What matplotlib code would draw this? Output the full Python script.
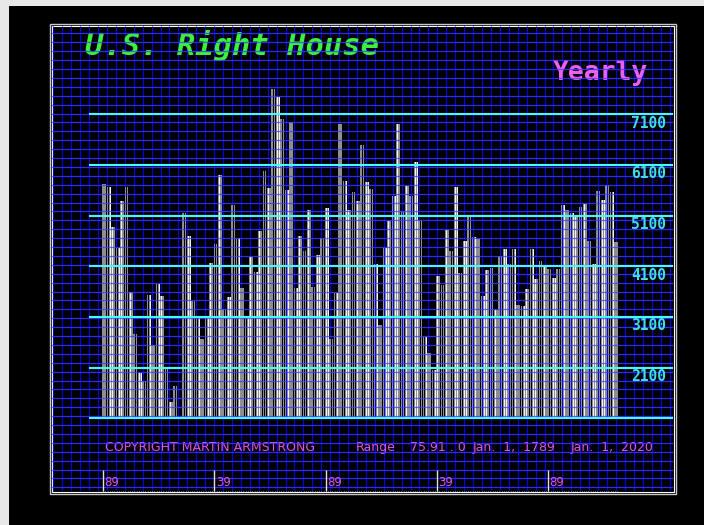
import numpy as np
import matplotlib.pyplot as plt
from matplotlib.patches import Rectangle

# one value per two-year Congress, 1789 .. 2019
congress_start = np.arange(1789, 2021, 2)
house_values = np.array([
    5715, 5668, 4879, 4465, 5386, 5668, 3591, 2763, 2000, 1842,
    3538, 2552, 3755, 3512, 2118, 1427, 1737, 1130, 5149, 4702,
    3414, 3118, 2664, 3118, 4163, 4532, 5893, 3262, 3493, 5301,
    4662, 3670, 3072, 4281, 3980, 4794, 5978, 5648, 7601, 7431,
    7009, 5603, 6944, 3670, 4702, 4400, 5203, 3690, 4327, 4656,
    5248, 2664, 3565, 6899, 5780, 5208, 5558, 5386, 6485, 5755,
    5623, 4149, 2940, 4465, 4986, 5479, 6899, 5189, 5688, 5479,
    6155, 5011, 2704, 2388, 2059, 3907, 3735, 4808, 4400, 5668,
    3960, 4591, 5090, 4676, 4636, 3512, 4019, 4064, 3236, 4307,
    4439, 4149, 4439, 3335, 3309, 3650, 4439, 3848, 4203, 4078,
    4045, 3867, 4050, 5301, 5208, 5143, 5076, 5274, 5321, 4591,
    4137, 5583, 5406, 5696, 5558, 4571])
assert len(house_values) == len(congress_start)

years = np.arange(1789, 2021)
yearly = np.repeat(house_values, 2)
base = 1100
levels = [1100, 2100, 3100, 4100, 5100, 6100, 7100]
level_labels = ["2100", "3100", "4100", "5100", "6100", "7100"]
tick_years = [1789, 1839, 1889, 1939, 1989]
tick_labels = ["89", "39", "89", "39", "89"]

BLUE = "#0000f0"
CYAN = "#44ffff"
PINK = "#e055e0"

fig = plt.figure(figsize=(7.04, 5.25), dpi=100, facecolor="black")

# background in pixel coordinates
bg = fig.add_axes([0, 0, 1, 1])
bg.set_xlim(0, 704)
bg.set_ylim(525, 0)
bg.axis("off")
bg.add_patch(Rectangle((0, 0), 704, 6, color="#e8e8e8", lw=0))
bg.add_patch(Rectangle((0, 0), 9, 525, color="#e8e8e8", lw=0))
bg.add_patch(Rectangle((9, 6), 695, 519, color="black", lw=0))

gx = np.arange(53.35, 673, 8.93)
gy = 487.3 - 8.9 * np.arange(0, 52)
bg.vlines(gx, 26, 491, color=BLUE, lw=0.8)
bg.hlines(gy, 52, 673, color=BLUE, lw=0.8)

# frame
bg.add_patch(Rectangle((49.5, 23.5), 626, 470, fill=False, ec="#c8c8c8", lw=1.0))
bg.add_patch(Rectangle((51.5, 25.5), 622, 466, fill=False, ec="white", lw=0.8))

bg.text(85, 55, "U.S. Right House", color="#3cf03c", fontsize=22,
        family="DejaVu Sans Mono", weight="bold", style="oblique", va="baseline")
bg.text(553, 80, "Yearly", color="#f060f0", fontsize=19,
        family="DejaVu Sans Mono", weight="bold", va="baseline")

bg.text(105, 451, "COPYRIGHT MARTIN ARMSTRONG", color=PINK, fontsize=9, va="baseline")
bg.text(356, 451, "Range", color=PINK, fontsize=9, va="baseline")
bg.text(409.5, 451, "75.91 . 0", color=PINK, fontsize=9, va="baseline")
bg.text(472.7, 451, "Jan.  1,  1789", color=PINK, fontsize=9, va="baseline")
bg.text(571, 451, "Jan.  1,  2020", color=PINK, fontsize=9, va="baseline")

# data axes over the inner area
ax = fig.add_axes([52 / 704, (525 - 491) / 525, 621 / 704, 465 / 525])
ax.set_facecolor("none")
ax.set_xlim(1766.0, 2045.0)
ax.set_ylim(-334, 8838)
ax.axis("off")

ax.bar(years - 0.12, yearly - base, bottom=base, width=0.6, color="#8e8e8e", lw=0)
ax.bar(years + 0.25, yearly - base, bottom=base, width=0.16, color="#f4f4f4", lw=0)

# grid rows show through the bars
ax.hlines(gy, 52, 673, color="#3a3aff", lw=0.9, alpha=0.75, transform=bg.transData)

ax.hlines(levels, 1782.6, 2045.0, color=CYAN, lw=1.5)
for lev, lab in zip(levels[1:], level_labels):
    ax.annotate(lab, (2041.9, lev), xytext=(0, -1), textcoords="offset points",
                ha="right", va="top", color="#40e0e0", fontsize=10.5,
                family="DejaVu Sans Mono", weight="bold")

# year ruler at the bottom
ax.vlines(tick_years, -334, 80, color="#e0e0e0", lw=1, clip_on=False)
for ty, tl in zip(tick_years, tick_labels):
    ax.annotate(tl, (ty, -334), xytext=(1, 1.5), textcoords="offset points",
                ha="left", va="bottom", color=PINK, fontsize=8.5)
ax.vlines(years, -360, -334, color="white", lw=0.5, clip_on=False)

fig.savefig("out.png", dpi=100, facecolor=fig.get_facecolor())
